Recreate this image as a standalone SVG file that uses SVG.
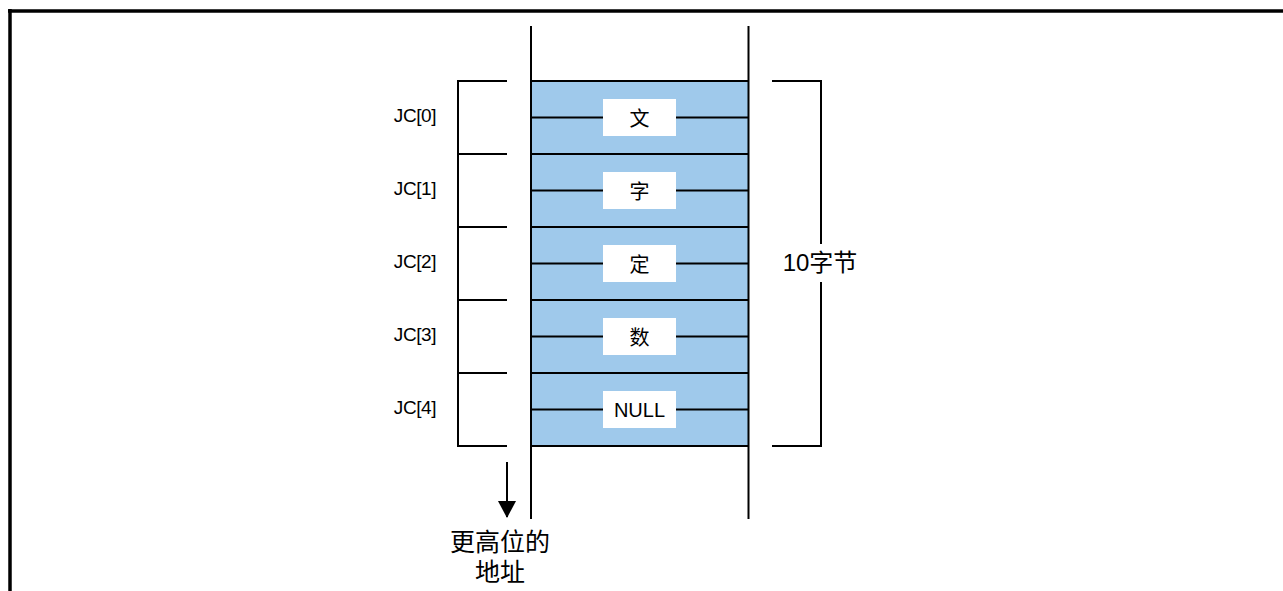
<svg xmlns="http://www.w3.org/2000/svg" width="1283" height="591" viewBox="0 0 1283 591">
<style>
.ln{stroke:#000;stroke-width:2;fill:none}
.fr{stroke:#000;stroke-width:3.5;fill:none}
.cell{fill:#9fc9eb;stroke:none}
.box{fill:#fff;stroke:none}
.lbl{font-family:"Liberation Sans","Noto Sans CJK SC",sans-serif;font-size:20px;fill:#000;text-anchor:middle}
.jc{font-family:"Liberation Sans",sans-serif;font-size:19px;fill:#000;text-anchor:middle;letter-spacing:-0.4px}
.big{font-family:"Liberation Sans","Noto Sans CJK SC",sans-serif;font-size:24px;fill:#000;text-anchor:middle}
</style>
<defs>
<marker id="ah" viewBox="0 0 17 18" refX="16" refY="9" markerWidth="17" markerHeight="18" markerUnits="userSpaceOnUse" orient="auto">
<polygon points="0,0 17,9 0,18" fill="#000"/>
</marker>
</defs>
<rect width="1283" height="591" fill="#fff"/>
<g id="frame">
<line class="fr" x1="8" y1="11" x2="1283" y2="11"/>
<line class="fr" x1="10" y1="9" x2="10" y2="591"/>
</g>
<g id="memory">
<rect class="cell" x="531" y="81" width="217.5" height="365"/>
<line class="ln" x1="531" y1="26" x2="531" y2="519"/>
<line class="ln" x1="748.5" y1="26" x2="748.5" y2="519"/>
<line class="ln" x1="531" y1="81" x2="748.5" y2="81"/>
<line class="ln" x1="531" y1="154" x2="748.5" y2="154"/>
<line class="ln" x1="531" y1="227" x2="748.5" y2="227"/>
<line class="ln" x1="531" y1="300" x2="748.5" y2="300"/>
<line class="ln" x1="531" y1="373" x2="748.5" y2="373"/>
<line class="ln" x1="531" y1="446" x2="748.5" y2="446"/>
<line class="ln" x1="531" y1="117.5" x2="748.5" y2="117.5"/>
<line class="ln" x1="531" y1="190.5" x2="748.5" y2="190.5"/>
<line class="ln" x1="531" y1="263.5" x2="748.5" y2="263.5"/>
<line class="ln" x1="531" y1="336.5" x2="748.5" y2="336.5"/>
<line class="ln" x1="531" y1="409.5" x2="748.5" y2="409.5"/>
</g>
<g id="cell0"><rect class="box" x="603" y="99" width="73" height="37"/><text class="lbl" x="639.5" y="125.5">文</text></g>
<g id="cell1"><rect class="box" x="603" y="172" width="73" height="37"/><text class="lbl" x="639.5" y="198.5">字</text></g>
<g id="cell2"><rect class="box" x="603" y="245" width="73" height="37"/><text class="lbl" x="639.5" y="271.5">定</text></g>
<g id="cell3"><rect class="box" x="603" y="318" width="73" height="37"/><text class="lbl" x="639.5" y="344.5">数</text></g>
<g id="cell4"><rect class="box" x="603" y="391" width="73" height="37"/><text class="lbl" x="639.5" y="416.5">NULL</text></g>
<g id="index-bracket">
<line class="ln" x1="458" y1="80" x2="458" y2="447"/>
<line class="ln" x1="457" y1="81" x2="507" y2="81"/>
<line class="ln" x1="457" y1="154" x2="507" y2="154"/>
<line class="ln" x1="457" y1="227" x2="507" y2="227"/>
<line class="ln" x1="457" y1="300" x2="507" y2="300"/>
<line class="ln" x1="457" y1="373" x2="507" y2="373"/>
<line class="ln" x1="457" y1="446" x2="507" y2="446"/>
<text class="jc" x="415" y="122">JC[0]</text>
<text class="jc" x="415" y="195">JC[1]</text>
<text class="jc" x="415" y="268">JC[2]</text>
<text class="jc" x="415" y="341">JC[3]</text>
<text class="jc" x="415" y="414">JC[4]</text>
</g>
<g id="size-bracket">
<path class="ln" d="M772 81 H821 V244"/>
<path class="ln" d="M821 282 V446 H772"/>
<text class="big" x="820" y="271">10字节</text>
</g>
<g id="connectors">
<line class="ln" x1="507" y1="462" x2="507" y2="517" marker-end="url(#ah)"/>
</g>
<g id="direction-label">
<text class="big" x="500" y="551" style="font-size:25px">更高位的</text>
<text class="big" x="500" y="581" style="font-size:25px">地址</text>
</g>
</svg>
